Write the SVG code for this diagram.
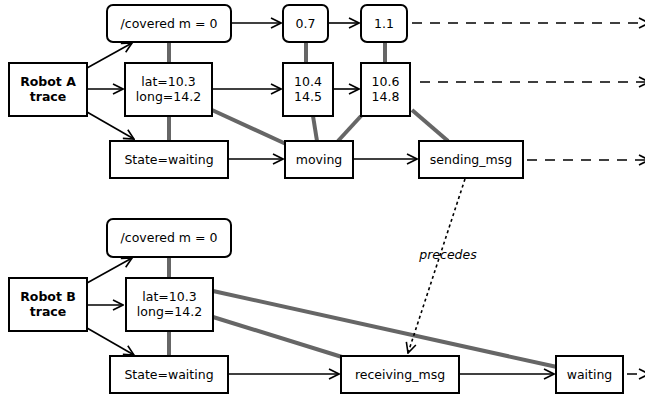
<svg xmlns="http://www.w3.org/2000/svg" width="645" height="396" viewBox="0 0 645 396">
<style>
.box{fill:#fff;stroke:#000;stroke-width:2}
.t{font-family:"DejaVu Sans",sans-serif;font-size:12.5px;fill:#000;text-anchor:middle}
.b{font-weight:bold}
.link{stroke:#666;stroke-width:4;fill:none}
.arr{stroke:#000;stroke-width:1.6;fill:none;marker-end:url(#ah)}
.dash{stroke:#000;stroke-width:1.6;fill:none;stroke-dasharray:10 8;marker-end:url(#ah)}
.dot{stroke:#000;stroke-width:1.6;fill:none;stroke-dasharray:3 3;marker-end:url(#ah)}
</style>
<defs>
<marker id="ah" viewBox="0 0 12 12" refX="11" refY="6" markerWidth="12" markerHeight="12" markerUnits="userSpaceOnUse" orient="auto">
<path d="M1,1 L11,6 L1,11" fill="none" stroke="#000" stroke-width="1.6"/>
</marker>
</defs>
<g id="links">
<line class="link" x1="169" y1="42" x2="169" y2="63"/>
<line class="link" x1="169" y1="116" x2="169" y2="141"/>
<line class="link" x1="212" y1="110" x2="286" y2="144"/>
<line class="link" x1="306" y1="42" x2="306" y2="63"/>
<line class="link" x1="313" y1="116" x2="317" y2="141"/>
<line class="link" x1="361" y1="116" x2="338" y2="141"/>
<line class="link" x1="385" y1="42" x2="385" y2="63"/>
<line class="link" x1="412" y1="110" x2="448" y2="141"/>
<line class="link" x1="169" y1="257" x2="169" y2="278"/>
<line class="link" x1="169" y1="331" x2="169" y2="356"/>
<line class="link" x1="213" y1="291" x2="557" y2="367"/>
<line class="link" x1="213" y1="317" x2="342" y2="357"/>
</g>
<g id="connectors">
<line class="arr" x1="87" y1="68" x2="132" y2="43"/>
<line class="arr" x1="87" y1="89" x2="123" y2="89"/>
<line class="arr" x1="87" y1="112" x2="134" y2="139"/>
<line class="arr" x1="231" y1="23" x2="281" y2="23"/>
<line class="arr" x1="328" y1="23" x2="359" y2="23"/>
<line class="arr" x1="212" y1="89" x2="281" y2="89"/>
<line class="arr" x1="333" y1="89" x2="359" y2="89"/>
<line class="arr" x1="228" y1="159" x2="283" y2="159"/>
<line class="arr" x1="353" y1="159" x2="417" y2="159"/>
<line class="dash" x1="412" y1="23" x2="649" y2="23"/>
<line class="dash" x1="420" y1="82" x2="649" y2="82"/>
<line class="dash" x1="527" y1="160" x2="649" y2="160"/>
<line class="dot" x1="465" y1="179" x2="408" y2="353"/>
<line class="arr" x1="87" y1="283" x2="132" y2="258"/>
<line class="arr" x1="87" y1="305" x2="123" y2="305"/>
<line class="arr" x1="87" y1="328" x2="134" y2="355"/>
<line class="arr" x1="228" y1="374" x2="339" y2="374"/>
<line class="arr" x1="459" y1="374" x2="554" y2="374"/>
<line class="dash" x1="627" y1="374" x2="649" y2="374" stroke-dasharray="10 12"/>
<text class="t" x="448" y="259" font-style="italic">precedes</text>
</g>
<g id="robotA">
<rect class="box" x="9" y="63" width="78" height="53"/>
<text class="t b" x="48" y="86">Robot A</text>
<text class="t b" x="48" y="101">trace</text>
</g>
<g id="coveredA">
<rect class="box" x="107" y="5" width="124" height="37" rx="6"/>
<text class="t" x="169" y="28">/covered m = 0</text>
</g>
<g id="latA">
<rect class="box" x="125" y="63" width="87" height="53"/>
<text class="t" x="168.5" y="86">lat=10.3</text>
<text class="t" x="168.5" y="101">long=14.2</text>
</g>
<g id="stateA">
<rect class="box" x="110" y="141" width="118" height="37"/>
<text class="t" x="169" y="164">State=waiting</text>
</g>
<g id="c07">
<rect class="box" x="283" y="5" width="45" height="37" rx="6"/>
<text class="t" x="305.5" y="28">0.7</text>
</g>
<g id="c11">
<rect class="box" x="361" y="5" width="46" height="37" rx="6"/>
<text class="t" x="384" y="28">1.1</text>
</g>
<g id="p104">
<rect class="box" x="283" y="63" width="50" height="53"/>
<text class="t" x="308" y="86">10.4</text>
<text class="t" x="308" y="101">14.5</text>
</g>
<g id="p106">
<rect class="box" x="361" y="63" width="49" height="53"/>
<text class="t" x="385.5" y="86">10.6</text>
<text class="t" x="385.5" y="101">14.8</text>
</g>
<g id="moving">
<rect class="box" x="285" y="141" width="68" height="37"/>
<text class="t" x="319" y="164">moving</text>
</g>
<g id="sending">
<rect class="box" x="419" y="141" width="104" height="37"/>
<text class="t" x="471" y="164">sending_msg</text>
</g>
<g id="robotB">
<rect class="box" x="9" y="278" width="78" height="53"/>
<text class="t b" x="48" y="301">Robot B</text>
<text class="t b" x="48" y="316">trace</text>
</g>
<g id="coveredB">
<rect class="box" x="107" y="219" width="124" height="38" rx="6"/>
<text class="t" x="169" y="242">/covered m = 0</text>
</g>
<g id="latB">
<rect class="box" x="126" y="278" width="87" height="53"/>
<text class="t" x="169.5" y="301">lat=10.3</text>
<text class="t" x="169.5" y="316">long=14.2</text>
</g>
<g id="stateB">
<rect class="box" x="110" y="356" width="118" height="37"/>
<text class="t" x="169" y="379">State=waiting</text>
</g>
<g id="receiving">
<rect class="box" x="341" y="356" width="118" height="37"/>
<text class="t" x="400" y="379">receiving_msg</text>
</g>
<g id="waitingB">
<rect class="box" x="556" y="356" width="67" height="37"/>
<text class="t" x="589.5" y="379">waiting</text>
</g>
</svg>
